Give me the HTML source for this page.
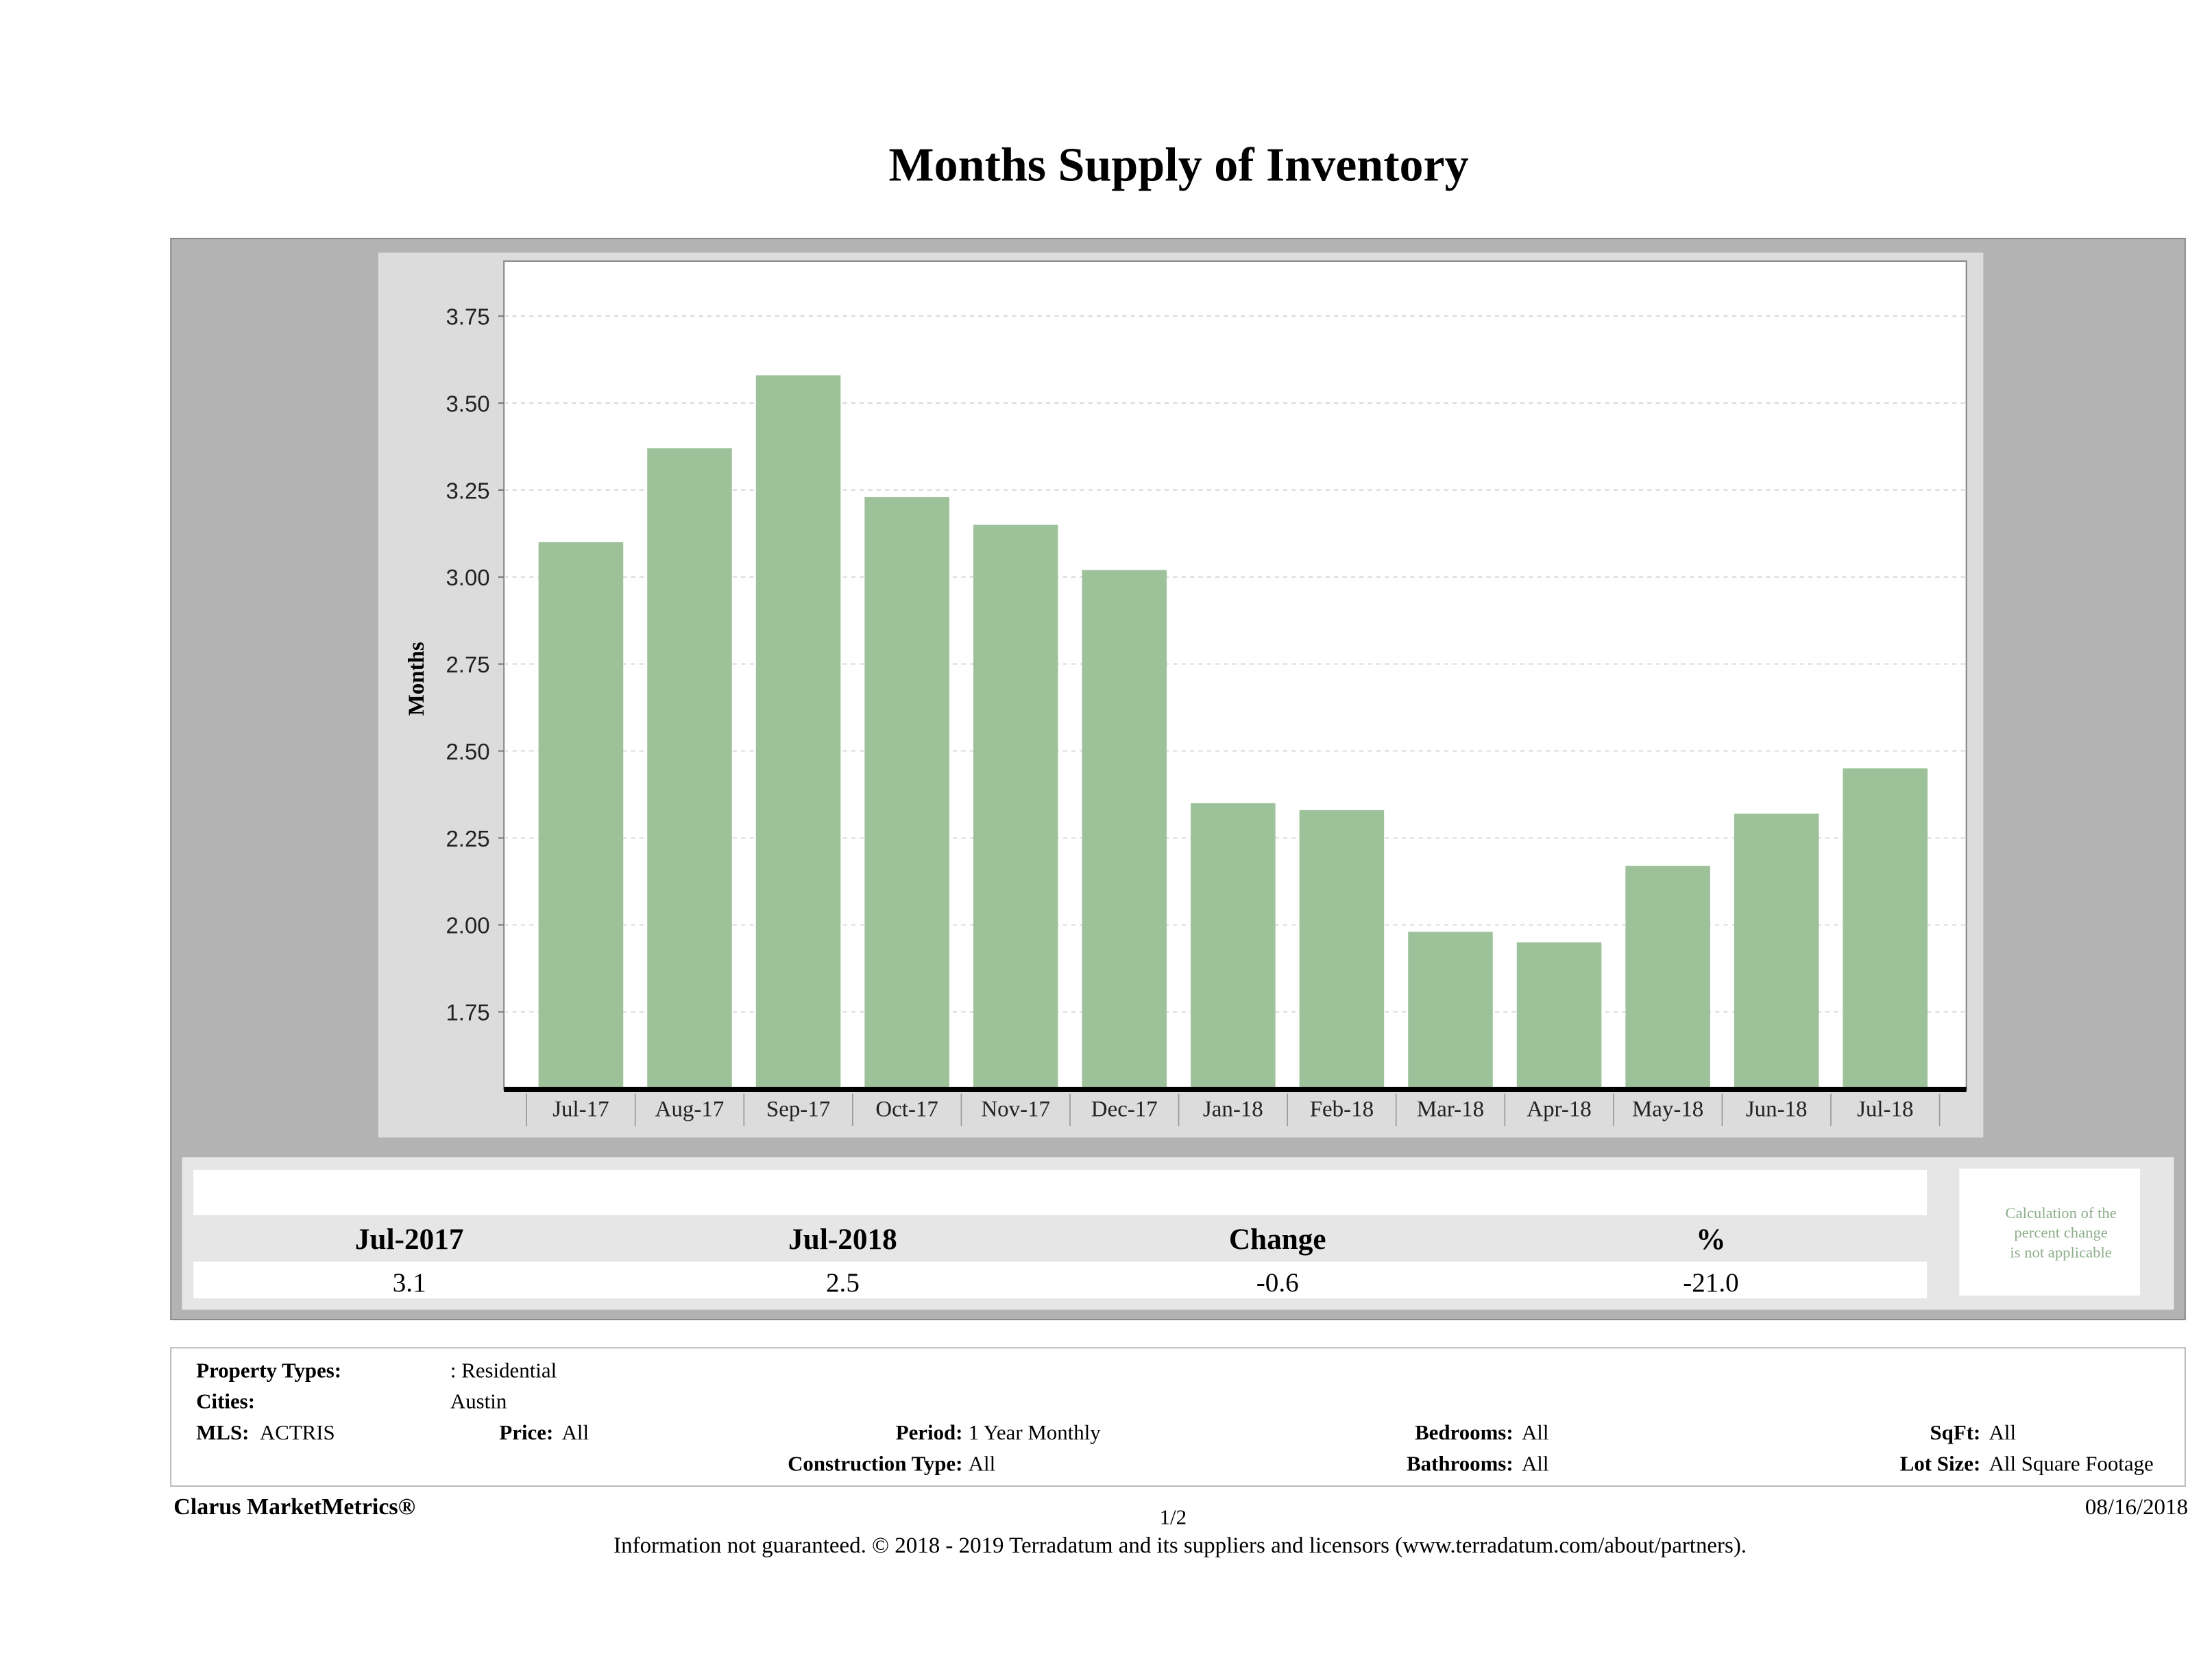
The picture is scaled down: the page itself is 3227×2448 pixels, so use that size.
<!DOCTYPE html>
<html>
<head>
<meta charset="utf-8">
<style>
  html,body{margin:0;padding:0;background:#fff;}
  svg{display:block;}
  .serif{font-family:"Liberation Serif",serif;}
  .sans{font-family:"Liberation Sans",sans-serif;}
</style>
</head>
<body>
<svg id="page" width="3227" height="2448" viewBox="0 0 1567 1189" preserveAspectRatio="none" xmlns="http://www.w3.org/2000/svg">
  <text class="serif" x="835" y="128" text-anchor="middle" font-size="34" font-weight="bold" fill="#000">Months Supply of Inventory</text>

  <rect x="121" y="169" width="1427" height="766" fill="#b3b3b3" stroke="#8a8a8a" stroke-width="1"/>
  <rect x="268" y="179" width="1137" height="627" fill="#dcdcdc"/>
  <rect x="357" y="185" width="1036" height="587" fill="#fff" stroke="#888" stroke-width="1"/>

  <g id="grid"></g>
  <g id="yticks"></g>
  <g id="bars"></g>
  <g id="xaxis"></g>

  <text class="serif" transform="translate(300,481) rotate(-90)" text-anchor="middle" font-size="16" font-weight="bold">Months</text>

  <rect x="129" y="820" width="1411" height="108" fill="#e6e6e6"/>
  <rect x="137" y="829" width="1228" height="32" fill="#fff"/>
  <rect x="137" y="894" width="1228" height="26" fill="#fff"/>
  <g class="serif" font-size="21" font-weight="bold" text-anchor="middle">
    <text x="290" y="885">Jul-2017</text>
    <text x="597" y="885">Jul-2018</text>
    <text x="905" y="885">Change</text>
    <text x="1212" y="885">%</text>
  </g>
  <g class="serif" font-size="19" text-anchor="middle">
    <text x="290" y="915">3.1</text>
    <text x="597" y="915">2.5</text>
    <text x="905" y="915">-0.6</text>
    <text x="1212" y="915">-21.0</text>
  </g>
  <rect x="1388" y="828" width="128" height="90" fill="#fff"/>
  <g class="serif" font-size="11" fill="#8fae8c" text-anchor="middle">
    <text x="1460" y="863">Calculation of the</text>
    <text x="1460" y="877">percent change</text>
    <text x="1460" y="891">is not applicable</text>
  </g>

  <rect x="121" y="955" width="1427" height="98" fill="#fff" stroke="#bbb" stroke-width="1"/>
  <g class="serif" font-size="15" fill="#000">
    <text x="139" y="976" font-weight="bold">Property Types:</text>
    <text x="319" y="976">: Residential</text>
    <text x="139" y="998" font-weight="bold">Cities:</text>
    <text x="319" y="998">Austin</text>
    <text x="139" y="1020" font-weight="bold">MLS:</text>
    <text x="184" y="1020">ACTRIS</text>
    <text x="392" y="1020" font-weight="bold" text-anchor="end">Price:</text>
    <text x="398" y="1020">All</text>
    <text x="682" y="1020" font-weight="bold" text-anchor="end">Period:</text>
    <text x="686" y="1020">1 Year Monthly</text>
    <text x="1072" y="1020" font-weight="bold" text-anchor="end">Bedrooms:</text>
    <text x="1078" y="1020">All</text>
    <text x="1403" y="1020" font-weight="bold" text-anchor="end">SqFt:</text>
    <text x="1409" y="1020">All</text>
    <text x="682" y="1042" font-weight="bold" text-anchor="end">Construction Type:</text>
    <text x="686" y="1042">All</text>
    <text x="1072" y="1042" font-weight="bold" text-anchor="end">Bathrooms:</text>
    <text x="1078" y="1042">All</text>
    <text x="1403" y="1042" font-weight="bold" text-anchor="end">Lot Size:</text>
    <text x="1409" y="1042">All Square Footage</text>
  </g>

  <g class="serif" fill="#000">
    <text x="123" y="1073" font-size="16.5" font-weight="bold">Clarus MarketMetrics®</text>
    <text x="831" y="1080" font-size="15" text-anchor="middle">1/2</text>
    <text x="1550" y="1073" font-size="16" text-anchor="end">08/16/2018</text>
    <text x="836" y="1100" font-size="16" text-anchor="middle">Information not guaranteed. © 2018 - 2019 Terradatum and its suppliers and licensors (www.terradatum.com/about/partners).</text>
  </g>
</svg>
<script>
const categories = ["Jul-17","Aug-17","Sep-17","Oct-17","Nov-17","Dec-17","Jan-18","Feb-18","Mar-18","Apr-18","May-18","Jun-18","Jul-18"];
const monthsSupply = [3.10, 3.37, 3.58, 3.23, 3.15, 3.02, 2.35, 2.33, 1.98, 1.95, 2.17, 2.32, 2.45];
const yTicks = [1.75, 2.00, 2.25, 2.50, 2.75, 3.00, 3.25, 3.50, 3.75];
const yTickLabels = ["1.75","2.00","2.25","2.50","2.75","3.00","3.25","3.50","3.75"];

const NS = "http://www.w3.org/2000/svg";
const plotL = 357, plotR = 1393, axisY = 772;
const catL = 373, catStep = 77.0, barW = 60;
function yScale(v){ return 224 + (3.75 - v) * 246.5; }
function xCenter(i){ return catL + catStep * (i + 0.5); }
function mk(tag, attrs, parent){
  const e = document.createElementNS(NS, tag);
  for (const k in attrs) e.setAttribute(k, attrs[k]);
  parent.appendChild(e);
  return e;
}
const grid = document.getElementById('grid');
const yt = document.getElementById('yticks');
yTicks.forEach((v, i) => {
  const y = yScale(v);
  const g = mk('line', {x1: plotL, x2: plotR, y1: y, y2: y, stroke: '#d0d0d0', 'stroke-width': 0.8, 'stroke-dasharray': '3,3'}, grid);
  
  
  const t = mk('line', {x1: plotL - 4, x2: plotL, y1: y, y2: y, stroke: '#777', 'stroke-width': 1}, yt);
  
  
  const lab = mk('text', {x: plotL - 10, y: y + 6, 'text-anchor': 'end', 'font-size': 16, 'font-family': '"Liberation Sans", sans-serif', fill: '#222'}, yt);
  lab.textContent = yTickLabels[i];
  
  
});
const bars = document.getElementById('bars');
monthsSupply.forEach((v, i) => {
  const top = yScale(v);
  const b = mk('rect', {x: xCenter(i) - barW / 2, y: top, width: barW, height: axisY - top, fill: '#9dc29a'}, bars);
  
  
});
const xa = document.getElementById('xaxis');
const axl = mk('line', {x1: plotL, x2: plotR, y1: axisY, y2: axisY, stroke: '#000', 'stroke-width': 3.5}, xa);


for (let i = 0; i <= categories.length; i++) {
  const x = catL + catStep * i;
  const s = mk('line', {x1: x, x2: x, y1: axisY + 3, y2: axisY + 26, stroke: '#999', 'stroke-width': 0.8}, xa);
  
  
}
categories.forEach((c, i) => {
  const t = mk('text', {x: xCenter(i), y: 791, 'text-anchor': 'middle', 'font-size': 16, 'font-family': '"Liberation Serif", serif', fill: '#222'}, xa);
  t.textContent = c;
  
  
});
</script>
</body>
</html>
